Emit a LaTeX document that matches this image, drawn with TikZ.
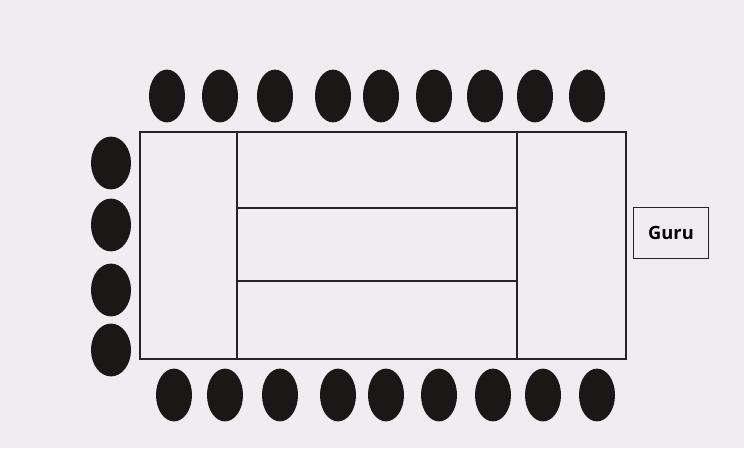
\documentclass[tikz,border=0pt]{standalone}
\usepackage{fontspec}
\setsansfont{Open Sans}
\usetikzlibrary{shapes.geometric, positioning}
\definecolor{paper}{HTML}{EFEDF1}
\definecolor{seatblack}{HTML}{1A1717}
\definecolor{inkline}{HTML}{262324}

\begin{document}
\begin{tikzpicture}[x=0.025cm, y=-0.025cm,
  seat/.style={ellipse, fill=seatblack, minimum width=0.9cm, minimum height=1.32cm, inner sep=0pt},
  tableline/.style={line width=1.4pt, color=inkline},
  teacher/.style={rectangle, draw=inkline, line width=1.3pt, font=\sffamily\bfseries\fontsize{13}{15}\selectfont, minimum width=1.875cm, minimum height=1.275cm, inner sep=0pt},
]
\fill[paper] (0,0) rectangle (744,448);

% table with its parts
\draw[tableline] (140,132) rectangle (626,359);
\draw[tableline] (237,132) -- (237,359);
\draw[tableline] (517,132) -- (517,359);
\draw[tableline] (237,208) -- (517,208);
\draw[tableline] (237,281) -- (517,281);

\node[teacher] (guru) at (671,233) {Guru};

% seats
\foreach \x [count=\i] in {167,220,275,333,381,434,485,535,587}
  \node[seat] (top-\i) at (\x,96) {};
\foreach \x [count=\i] in {174,225,280,338,386,439,493,543,597}
  \node[seat] (bot-\i) at (\x,395) {};
\foreach \y [count=\i] in {163,225,290,350}
  \node[seat, minimum width=1cm] (left-\i) at (111,\y) {};
\end{tikzpicture}
\end{document}
